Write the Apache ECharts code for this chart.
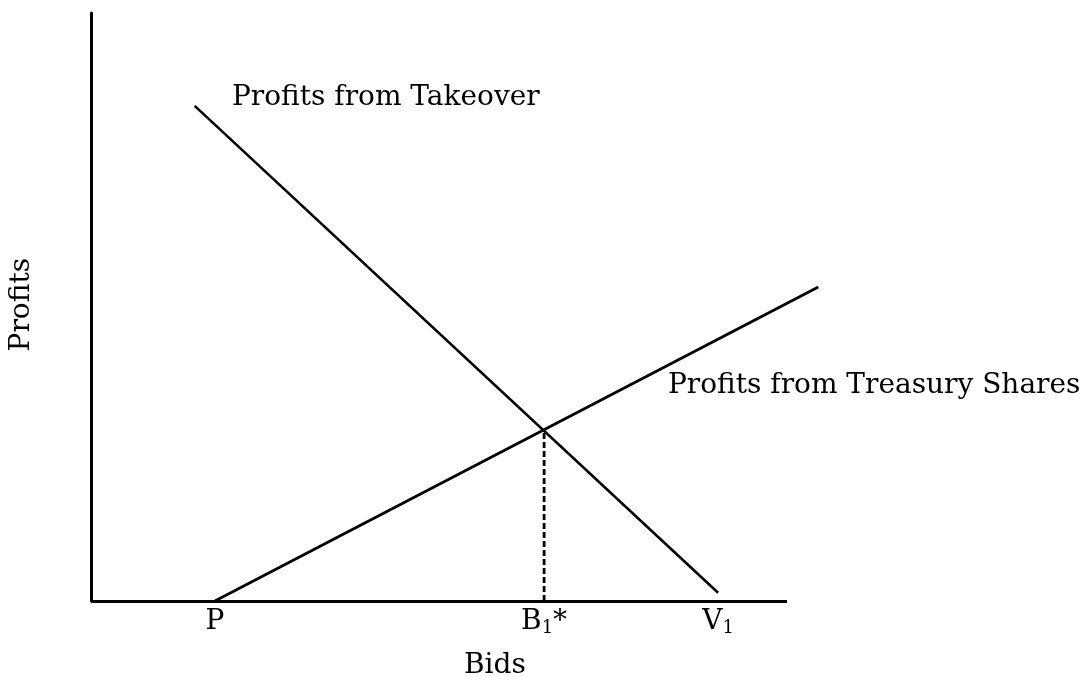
<!DOCTYPE html>
<html>
<head>
<meta charset="utf-8">
<script src="https://cdn.jsdelivr.net/npm/echarts@6/dist/echarts.min.js"></script>
<style>
html,body{margin:0;padding:0;background:#fff;}
#chart{width:1083px;height:677px;}
</style>
</head>
<body>
<div id="chart"></div>
<script>
// ---- data ----
var takeoverBids = [14.9, 90.1];
var takeoverProfits = [84.2, 1.4];
var treasuryBids = [17.8, 104.5];
var treasuryProfits = [0, 53.4];
var equilibriumBid = [65.1];
var equilibriumProfit = [29.1];
var bidAxisRange = [0, 100];
var tickValues = [17.8, 65.1, 90.1];
var tickLabels = ['P', 'B{sub|1}*', 'V{sub|1}'];
var seriesNames = ['Profits from Takeover', 'Profits from Treasury Shares'];
var axisNames = ['Bids', 'Profits'];

function pairs(xs, ys) {
  return xs.map(function (x, i) { return [x, ys[i]]; });
}

var FONT = 'DejaVu Serif';
var chart = echarts.init(document.getElementById('chart'));
var baseText = { fontFamily: FONT, fontSize: 28, color: '#000' };

chart.setOption({
  animation: false,
  backgroundColor: '#fff',
  // x scale: 6.96 px per unit (axis drawn 0..100, plot extends to 110 for the treasury line)
  grid: { left: 91, top: 13, width: 765.6, height: 588 },
  xAxis: {
    type: 'value', min: 0, max: 110,
    splitLine: { show: false },
    axisLine: { show: false },
    axisTick: { show: false },
    axisLabel: {
      customValues: tickValues,
      margin: 6,
      fontFamily: FONT, fontSize: 28, color: '#000', lineHeight: 30,
      formatter: function (v) {
        var i = tickValues.indexOf(v);
        return i >= 0 ? tickLabels[i] : '';
      },
      rich: {
        sub: { fontFamily: FONT, fontSize: 18, color: '#000', lineHeight: 30, padding: [16, 0, 0, 0], verticalAlign: 'bottom' }
      }
    }
  },
  yAxis: {
    type: 'value', min: 0, max: 100,
    splitLine: { show: false },
    axisLine: { show: true, onZero: false, lineStyle: { color: '#000', width: 3 } },
    axisTick: { show: false },
    axisLabel: { show: false }
  },
  graphic: [
    { type: 'text', left: 232, top: 84, style: Object.assign({ text: seriesNames[0] }, baseText) },
    { type: 'text', left: 668, top: 372, style: Object.assign({ text: seriesNames[1] }, baseText) },
    { type: 'text', left: 464, top: 652, style: Object.assign({ text: axisNames[0] }, baseText) },
    { type: 'text', left: 8, top: 258, rotation: Math.PI / 2, style: Object.assign({ text: axisNames[1] }, baseText) }
  ],
  series: [
    {
      name: seriesNames[0], type: 'line', data: pairs(takeoverBids, takeoverProfits),
      symbol: 'none', clip: false,
      lineStyle: { color: '#000', width: 2.6 },
      markLine: {
        silent: true, symbol: 'none', animation: false,
        label: { show: false },
        lineStyle: { color: '#000', width: 3, type: 'solid' },
        data: [[{ coord: [bidAxisRange[0], 0] }, { coord: [bidAxisRange[1], 0] }]]
      }
    },
    {
      name: seriesNames[1], type: 'line', data: pairs(treasuryBids, treasuryProfits),
      symbol: 'none', clip: false,
      lineStyle: { color: '#000', width: 2.8 }
    },
    {
      name: 'B1*', type: 'line',
      data: [[equilibriumBid[0], 0], [equilibriumBid[0], equilibriumProfit[0]]],
      symbol: 'none', clip: false,
      lineStyle: { color: '#000', width: 2.8, type: [6, 3] }
    }
  ]
});
</script>
</body>
</html>
